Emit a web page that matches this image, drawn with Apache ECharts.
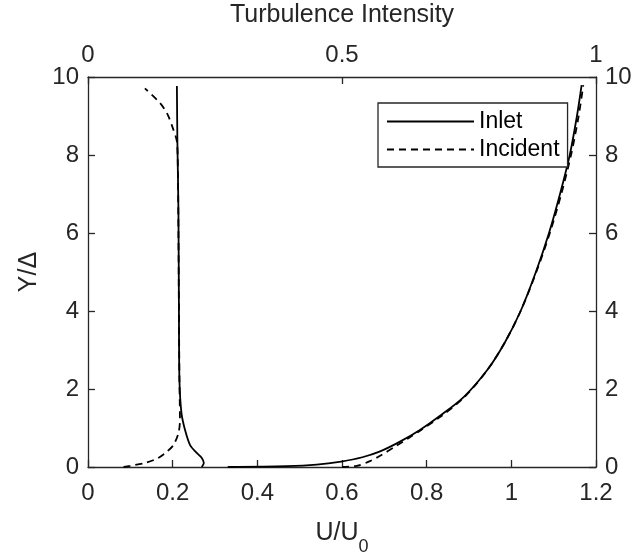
<!DOCTYPE html>
<html>
<head>
<meta charset="utf-8">
<script src="https://cdn.jsdelivr.net/npm/echarts@6/dist/echarts.min.js"></script>
<style>
html,body{margin:0;padding:0;background:#fff;}
#chart{width:634px;height:557px;}
</style>
</head>
<body>
<div id="chart"></div>
<script>
// ---- data ----
const bottomTicks = [0, 0.2, 0.4, 0.6, 0.8, 1, 1.2];
const topTicks = [0, 0.5, 1];
const yTicks = [0, 2, 4, 6, 8, 10];

// Velocity profiles (bottom axis U/U0)
const inletVelY = [0, 0.02, 0.06, 0.14, 0.25, 0.4, 0.65, 0.95, 1.3, 1.8, 2.5, 3.2, 4.0, 5.0, 6.0, 7.0, 8.0, 9.0, 9.79];
const inletVelU = [0.33, 0.47, 0.54, 0.598, 0.648, 0.69, 0.737, 0.784, 0.83, 0.888, 0.944, 0.985, 1.022, 1.058, 1.089, 1.115, 1.138, 1.155, 1.166];

const incidentVelY = [0, 0.03, 0.15, 0.3, 0.52, 0.74, 0.95, 1.3, 1.8, 2.5, 3.2, 4.0, 5.0, 6.0, 7.0, 8.0, 9.0, 9.79];
const incidentVelU = [0.6, 0.635, 0.666, 0.692, 0.725, 0.757, 0.787, 0.834, 0.89, 0.944, 0.985, 1.022, 1.059, 1.091, 1.118, 1.141, 1.159, 1.17];

// Turbulence intensity profiles (top axis)
const inletTiY = [0, 0.1, 0.23, 0.36, 0.56, 0.95, 1.38, 2.23, 4, 6.6, 8.3, 9.77];
const inletTiV = [0.224, 0.228, 0.224, 0.214, 0.201, 0.191, 0.184, 0.18, 0.179, 0.178, 0.176, 0.175];

const incidentTiY = [0, 0.03, 0.1, 0.23, 0.39, 0.56, 0.87, 1.2, 2.23, 4, 6, 7.5, 8.34, 8.69, 9.03, 9.33, 9.71];
const incidentTiV = [0.07, 0.083, 0.112, 0.138, 0.155, 0.168, 0.178, 0.181, 0.18, 0.179, 0.178, 0.177, 0.175, 0.167, 0.157, 0.142, 0.112];

const seriesNames = ['Inlet', 'Incident'];

function zip(xs, ys) { return xs.map((x, i) => [x, ys[i]]); }

const FONT = "'Liberation Sans', Arial, Helvetica, sans-serif";
const AX = '#262626';
const tickFont = 24;
const nameFont = 25;

const chart = echarts.init(document.getElementById('chart'), null, {renderer: 'canvas'});

function axisCommon() {
  return {
    axisLine: {show: true, onZero: false, lineStyle: {color: AX, width: 1.3}},
    axisTick: {show: true, inside: true, length: 7, lineStyle: {color: AX, width: 1.3}},
    splitLine: {show: false},
    axisLabel: {color: AX, fontSize: tickFont, fontFamily: FONT},
    nameTextStyle: {color: AX, fontSize: nameFont, fontFamily: FONT}
  };
}

const option = {
  backgroundColor: '#fff',
  animation: false,
  grid: {left: 88, right: 38, top: 77, bottom: 90, containLabel: false, outerBoundsMode: 'none'},
  legend: {
    orient: 'vertical',
    left: 378, top: 103,
    data: seriesNames,
    itemWidth: 87, itemHeight: 14, itemGap: 5,
    padding: [7, 8, 6, 8],
    borderColor: AX, borderWidth: 1.3, backgroundColor: '#fff',
    itemStyle: {opacity: 0},
    textStyle: {color: '#000', fontSize: 23, fontFamily: FONT}
  },
  xAxis: [
    Object.assign(axisCommon(), {
      type: 'value', position: 'bottom', min: 0, max: 1.2, interval: 0.2,
      name: '{a|U/U}{b|0}', nameLocation: 'middle', nameGap: 25,
      nameTextStyle: {color: AX, fontFamily: FONT, rich: {
        a: {fontSize: nameFont, fontFamily: FONT, color: AX, lineHeight: 28},
        b: {fontSize: 18, fontFamily: FONT, color: AX, lineHeight: 18, padding: [28, 0, 0, 0]}
      }},
      axisLabel: {color: AX, fontSize: tickFont, fontFamily: FONT, margin: 14,
        formatter: v => String(bottomTicks.find(t => Math.abs(t - v) < 1e-9) ?? v)}
    }),
    Object.assign(axisCommon(), {
      type: 'value', position: 'top', min: 0, max: 1, interval: 0.5,
      name: 'Turbulence Intensity', nameLocation: 'middle', nameGap: 49,
      axisLabel: {color: AX, fontSize: tickFont, fontFamily: FONT, margin: 10,
        formatter: v => String(topTicks.find(t => Math.abs(t - v) < 1e-9) ?? v)}
    })
  ],
  yAxis: [
    Object.assign(axisCommon(), {
      type: 'value', position: 'left', min: 0, max: 10, interval: 2,
      name: 'Y/Δ', nameLocation: 'middle', nameGap: 40, nameRotate: 90,
      axisLabel: {color: AX, fontSize: tickFont, fontFamily: FONT, margin: 9,
        formatter: v => String(yTicks.find(t => t === v) ?? v)}
    }),
    Object.assign(axisCommon(), {
      type: 'value', position: 'right', min: 0, max: 10, interval: 2,
      axisLabel: {color: AX, fontSize: tickFont, fontFamily: FONT, margin: 9,
        formatter: v => String(yTicks.find(t => t === v) ?? v)}
    })
  ],
  series: [
    {name: seriesNames[0], type: 'line', xAxisIndex: 0, yAxisIndex: 0, data: zip(inletVelU, inletVelY),
     showSymbol: false, symbol: 'none', smooth: 0.3, lineStyle: {color: '#000', width: 1.8, type: 'solid'}, itemStyle: {color: '#000'}},
    {name: seriesNames[1], type: 'line', xAxisIndex: 0, yAxisIndex: 0, data: zip(incidentVelU, incidentVelY),
     showSymbol: false, symbol: 'none', smooth: 0.3, lineStyle: {color: '#000', width: 1.8, type: [7, 5]}, itemStyle: {color: '#000'}},
    {name: seriesNames[0], type: 'line', xAxisIndex: 1, yAxisIndex: 0, data: zip(inletTiV, inletTiY),
     showSymbol: false, symbol: 'none', smooth: 0.3, lineStyle: {color: '#000', width: 1.8, type: 'solid'}, itemStyle: {color: '#000'}},
    {name: seriesNames[1], type: 'line', xAxisIndex: 1, yAxisIndex: 0, data: zip(incidentTiV, incidentTiY),
     showSymbol: false, symbol: 'none', smooth: 0.3, lineStyle: {color: '#000', width: 1.8, type: [7, 5]}, itemStyle: {color: '#000'}}
  ]
};
chart.setOption(option);
</script>
</body>
</html>
